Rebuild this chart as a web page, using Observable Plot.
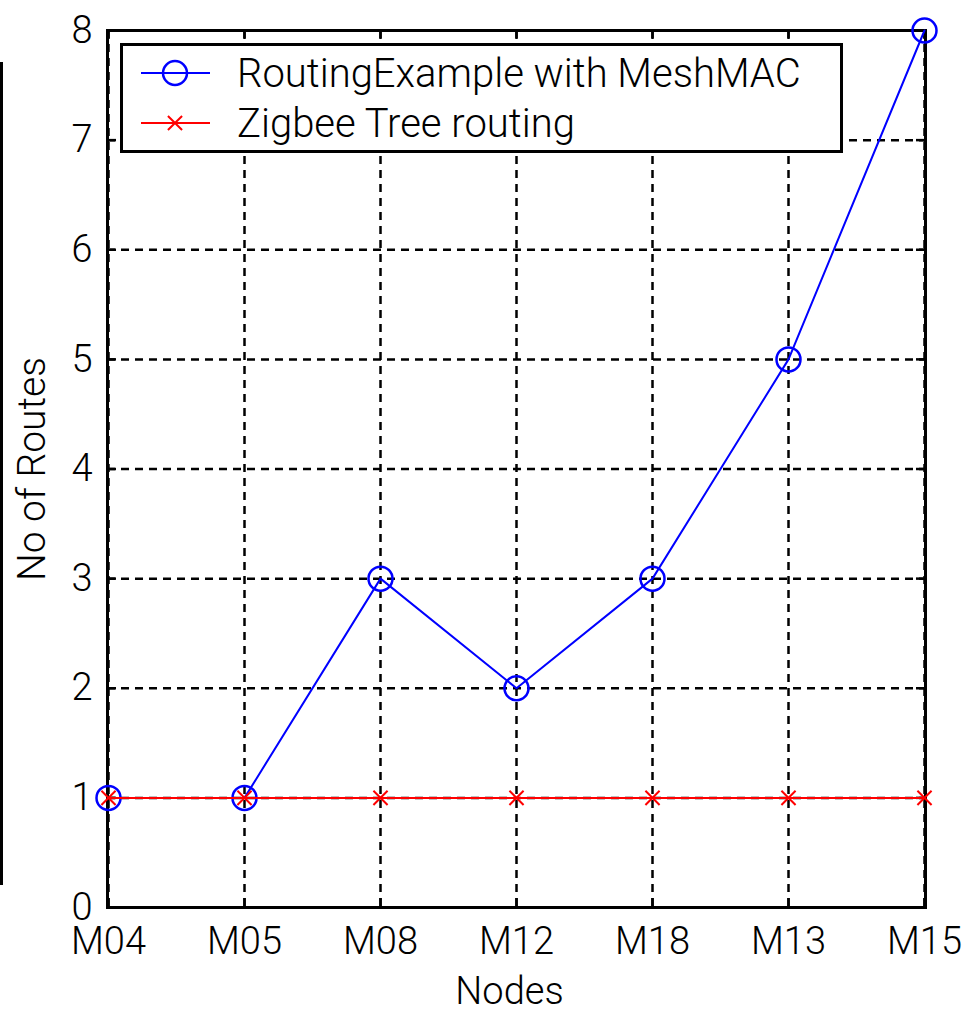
<!DOCTYPE html>
<html>
<head>
<meta charset="utf-8">
<script src="https://cdn.jsdelivr.net/npm/d3@7"></script>
<script src="https://cdn.jsdelivr.net/npm/@observablehq/plot@0.6"></script>
<style>
  html, body { margin: 0; padding: 0; background: #fff; }
  #wrap { position: relative; width: 968px; height: 1012px; overflow: hidden; font-family: Roboto, "Liberation Sans", Arial, sans-serif; font-weight: 300; }
  #wrap svg text { font-weight: 300; }
  #edge { position: absolute; left: 0; top: 62px; width: 3px; height: 823px; background: #000; }
  #legend { position: absolute; left: 120px; top: 43px; }
</style>
</head>
<body>
<div id="wrap"><div id="edge"></div></div>
<script>
// ---- data ----
const categories = ["M04", "M05", "M08", "M12", "M18", "M13", "M15"];
const meshMacRoutes = [1, 1, 3, 2, 3, 5, 8];
const zigbeeRoutes = [1, 1, 1, 1, 1, 1, 1];
const yTicks = [0, 1, 2, 3, 4, 5, 6, 7, 8];
const seriesNames = ["RoutingExample with MeshMAC", "Zigbee Tree routing"];
const seriesColors = ["#0000ff", "#ff0000"];
const xLabel = "Nodes";
const yLabel = "No of Routes";

// ---- layout ----
const W = 968, H = 1012;
const mL = 107, mR = 43, mT = 30, mB = 105;
const pw = W - mL - mR, ph = H - mT - mB;
const tickLen = 9;
const font = "Roboto, 'Liberation Sans', Arial, sans-serif";

const meshData = categories.map((c, i) => ({node: c, value: meshMacRoutes[i]}));
const zigData = categories.map((c, i) => ({node: c, value: zigbeeRoutes[i]}));

const chart = Plot.plot({
  width: W, height: H,
  marginLeft: mL, marginRight: mR, marginTop: mT, marginBottom: mB,
  style: {fontFamily: font, fontSize: "38px", color: "#000", background: "#fff"},
  x: {type: "point", domain: categories, padding: 0, label: null},
  y: {domain: [0, 8], label: null},
  marks: [
    // dashed grid
    Plot.ruleX(categories, {x: d => d, stroke: "#000", strokeWidth: 2.5, strokeDasharray: "8,6"}),
    Plot.ruleY(yTicks, {y: d => d, stroke: "#000", strokeWidth: 2.5, strokeDasharray: "8,6"}),
    // inward ticks
    Plot.ruleY(yTicks, {y: d => d, insetRight: pw - tickLen, stroke: "#000", strokeWidth: 2.5}),
    Plot.ruleY(yTicks, {y: d => d, insetLeft: pw - tickLen, stroke: "#000", strokeWidth: 2.5}),
    Plot.ruleX(categories, {x: d => d, insetTop: ph - tickLen, stroke: "#000", strokeWidth: 2.5}),
    Plot.ruleX(categories, {x: d => d, insetBottom: ph - tickLen, stroke: "#000", strokeWidth: 2.5}),
    Plot.frame({stroke: "#000", strokeWidth: 3}),
    // axes
    Plot.axisX({tickSize: 0, tickPadding: 20, fontSize: 38, label: null}),
    Plot.axisY({ticks: yTicks, tickSize: 0, tickPadding: 15, fontSize: 38, label: null, tickFormat: d3.format("d")}),
    // axis titles
    Plot.text([xLabel], {text: d => d, frameAnchor: "bottom", textAnchor: "middle", lineAnchor: "middle", dx: -7, dy: 84, fontSize: 38, fill: "#000"}),
    Plot.text([yLabel], {text: d => d, frameAnchor: "left", textAnchor: "middle", lineAnchor: "middle", dx: -75, rotate: -90, fontSize: 39, fill: "#000"}),
    // series 1
    Plot.line(meshData, {x: "node", y: "value", stroke: seriesColors[0], strokeWidth: 2}),
    Plot.dot(meshData, {x: "node", y: "value", r: 12, stroke: seriesColors[0], strokeWidth: 2.5, fill: "none"}),
    // series 2
    Plot.line(zigData, {x: "node", y: "value", stroke: seriesColors[1], strokeWidth: 2}),
    Plot.dot(zigData, {x: "node", y: "value", symbol: "times", r: 6.5, stroke: seriesColors[1], strokeWidth: 2})
  ]
});
document.getElementById("wrap").appendChild(chart);

// ---- legend (overlay inside the axes) ----
const lg = d3.select("#wrap").append("svg")
  .attr("id", "legend").attr("width", 723).attr("height", 110);
lg.append("rect").attr("x", 1.5).attr("y", 1.5).attr("width", 720).attr("height", 107)
  .attr("fill", "#fff").attr("stroke", "#000").attr("stroke-width", 3);
const rowsY = [30, 80];
seriesNames.forEach((name, i) => {
  const g = lg.append("g").attr("transform", `translate(0,${rowsY[i]})`);
  g.append("line").attr("x1", 21).attr("x2", 90).attr("y1", 0).attr("y2", 0)
    .attr("stroke", seriesColors[i]).attr("stroke-width", 2);
  if (i === 0) {
    g.append("circle").attr("cx", 55).attr("cy", 0).attr("r", 12)
      .attr("fill", "none").attr("stroke", seriesColors[i]).attr("stroke-width", 2.5);
  } else {
    g.append("path").attr("transform", "translate(55,0)")
      .attr("d", d3.symbol(d3.symbolTimes, Math.PI * 42)())
      .attr("fill", "none").attr("stroke", seriesColors[i]).attr("stroke-width", 2);
  }
  g.append("text").attr("x", 117).attr("y", 0).attr("dy", "0.35em")
    .attr("font-family", font).attr("font-size", 40).attr("fill", "#000").text(name);
});
</script>
</body>
</html>
